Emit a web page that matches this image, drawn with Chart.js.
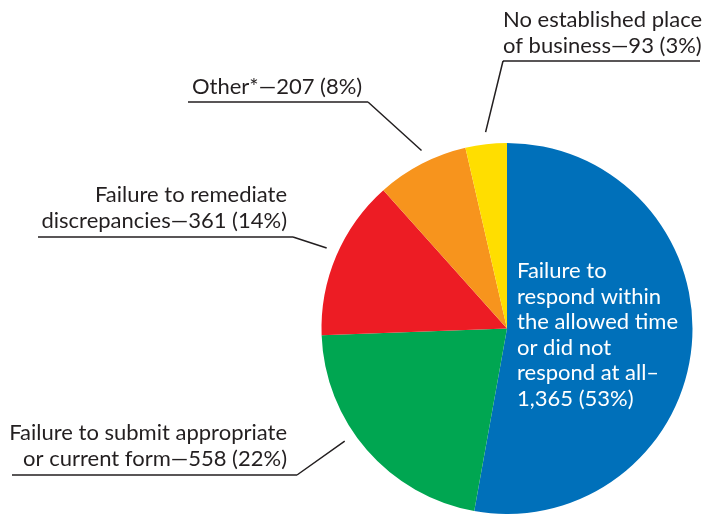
<!DOCTYPE html>
<html>
<head>
<meta charset="utf-8">
<script src="https://cdn.jsdelivr.net/npm/chart.js@4"></script>
<style>
  html, body { margin: 0; padding: 0; background: #fff; }
  #wrap { width: 707px; height: 514px; position: relative; }
</style>
</head>
<body>
<div id="wrap"><canvas id="pie"></canvas></div>
<script>
const categories = [
    "Failure to respond within the allowed time or did not respond at all",
    "Failure to submit appropriate or current form",
    "Failure to remediate discrepancies",
    "Other*",
    "No established place of business"
];
const counts = [1365, 558, 361, 207, 93];
const percents = [53, 22, 14, 8, 3];
const colors = ["#0070BA", "#00A651", "#ED1C24", "#F7941D", "#FFDE00"];

// label text, split into lines as printed
const labelLines = [
    ["Failure to", "respond within", "the allowed time", "or did not", "respond at all–", "1,365 (53%)"],
    ["Failure to submit appropriate", "or current form—558 (22%)"],
    ["Failure to remediate", "discrepancies—361 (14%)"],
    ["Other*—207 (8%)"],
    ["No established place", "of business—93 (3%)"]
];

// where each label sits; leaders point back into the slice
const labelLayout = [
    { x: 517, y: 278, align: "left", color: "#fff" },
    { x: 287, y: 440, align: "right", line: [12, 297, 475], elbow: 297, at: 0.58 },
    { x: 287, y: 202, align: "right", line: [38, 293, 237], elbow: 293, at: 0.52 },
    { x: 192, y: 94, align: "left", line: [188, 368, 102], elbow: 368, at: 0.56 },
    { x: 503, y: 27, align: "left", line: [503, 700, 61], elbow: 503, at: 0.52 }
];

const FONT = "22px Lato, 'Open Sans', sans-serif";
const LINE_H = 25.6;

const pieLabels = {
    id: "pieLabels",
    afterDraw(chart) {
        const ctx = chart.ctx;
        const arcs = chart.getDatasetMeta(0).data;
        ctx.save();
        ctx.font = FONT;
        ctx.textBaseline = "alphabetic";
        labelLines.forEach((lines, i) => {
            const lay = labelLayout[i];
            ctx.fillStyle = lay.color || "#231F20";
            ctx.textAlign = lay.align;
            lines.forEach((t, j) => ctx.fillText(t, lay.x, lay.y + j * LINE_H));
            if (!lay.line) return;
            const a = arcs[i];
            const ang = a.startAngle + (a.endAngle - a.startAngle) * lay.at;
            const r = a.outerRadius + 12;
            const ex = a.x + Math.cos(ang) * r;
            const ey = a.y + Math.sin(ang) * r;
            ctx.strokeStyle = "#231F20";
            ctx.lineWidth = 1.5;
            ctx.beginPath();
            ctx.moveTo(lay.line[0], lay.line[2]);
            ctx.lineTo(lay.line[1], lay.line[2]);
            ctx.moveTo(lay.elbow, lay.line[2]);
            ctx.lineTo(ex, ey);
            ctx.stroke();
        });
        ctx.restore();
    }
};

new Chart(document.getElementById("pie"), {
    type: "pie",
    data: {
        labels: categories,
        datasets: [{
            data: counts,
            backgroundColor: colors,
            borderWidth: 0
        }]
    },
    options: {
        responsive: true,
        maintainAspectRatio: false,
        animation: false,
        layout: { padding: { left: 321, right: 14, top: 143, bottom: -1 } },
        plugins: {
            legend: { display: false },
            tooltip: { enabled: false }
        }
    },
    plugins: [pieLabels]
});
</script>
</body>
</html>
